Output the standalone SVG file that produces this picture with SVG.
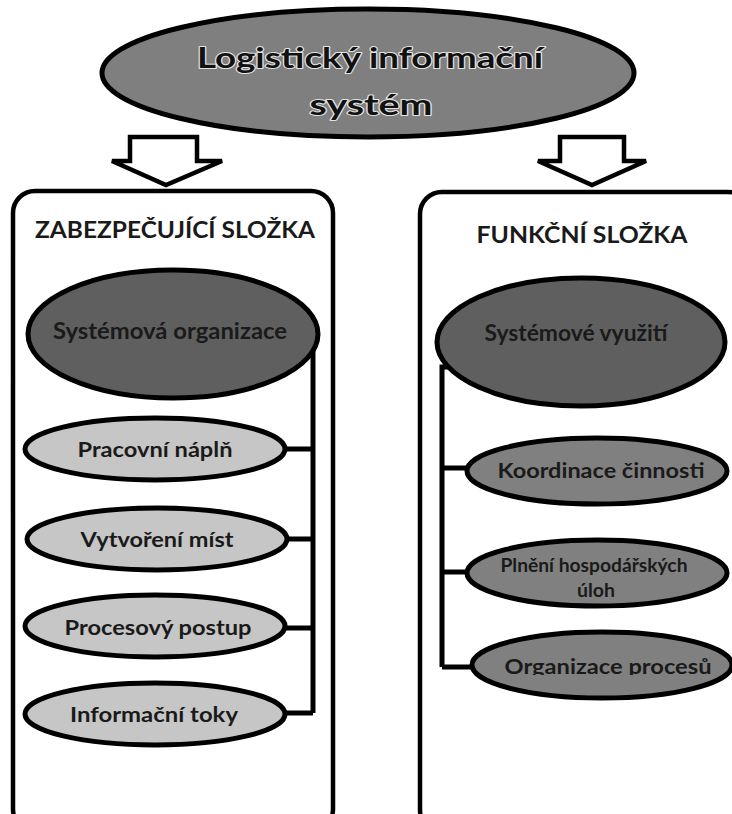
<svg xmlns="http://www.w3.org/2000/svg" width="732" height="814" viewBox="0 0 732 814">
<style>
text{font-family:Lato,"Open Sans","Liberation Sans",sans-serif;fill:#1a1a1a;text-anchor:middle}
.top{font-size:28px;font-weight:bold;stroke:#fff;stroke-width:2px;stroke-opacity:0.8;paint-order:stroke;stroke-linejoin:round;fill:#111}
.title{font-size:23px;font-weight:bold}
.big{font-size:23px;font-weight:bold}
.sm{font-size:21px;font-weight:bold}
.e{stroke:#000;stroke-width:5}
.box{fill:#fff;stroke:#000;stroke-width:4.5}
.arr{fill:#fff;stroke:#000;stroke-width:4.5;stroke-linejoin:miter}
.con{fill:none;stroke:#000;stroke-width:5}
</style>
<defs>
<clipPath id="clipOrg"><rect x="460" y="620" width="272" height="55"/></clipPath>
</defs>
<rect width="732" height="814" fill="#fff"/>
<g id="root">
<ellipse class="e" cx="368" cy="73" rx="266" ry="64" fill="#7f7f7f"/>
<text class="top" x="370" y="68" textLength="346" lengthAdjust="spacingAndGlyphs">Logistický informační</text>
<text class="top" x="371" y="115" textLength="123" lengthAdjust="spacingAndGlyphs">systém</text>
</g>
<g id="arrows">
<path class="arr" d="M130,137 H197 V161 H222 L166,185 L112,161 H130 Z"/>
<path class="arr" d="M560,137 H624 V161 H646 L592,185 L538,161 H560 Z"/>
</g>
<g id="box-left">
<rect class="box" x="13" y="191" width="320" height="640" rx="22"/>
<text class="title" x="175" y="238" textLength="280" lengthAdjust="spacingAndGlyphs">ZABEZPEČUJÍCÍ SLOŽKA</text>
</g>
<g id="box-right">
<rect class="box" x="420" y="192" width="330" height="640" rx="22"/>
<text class="title" x="582" y="243" textLength="211" lengthAdjust="spacingAndGlyphs">FUNKČNÍ SLOŽKA</text>
</g>
<g id="connectors">
<path class="con" d="M300,343 H313 V713"/>
<path class="con" d="M284,449 H313 M285,539 H313 M284,628 H313 M284,713 H313"/>
<path class="con" d="M448,367 H442 V667"/>
<path class="con" d="M442,468 H468 M442,572 H468 M442,667 H473"/>
</g>
<g id="n-sysorg">
<ellipse class="e" cx="173" cy="334" rx="145" ry="64" fill="#5f5f5f"/>
<text class="big" x="170" y="339" textLength="234" lengthAdjust="spacingAndGlyphs">Systémová organizace</text>
</g>
<g id="n-prac">
<ellipse class="e" cx="155" cy="449" rx="130" ry="31" fill="#c6c6c6"/>
<text class="sm" x="155" y="457" textLength="155" lengthAdjust="spacingAndGlyphs">Pracovní náplň</text>
</g>
<g id="n-vytv">
<ellipse class="e" cx="157" cy="539" rx="130" ry="31" fill="#c6c6c6"/>
<text class="sm" x="157" y="547" textLength="153" lengthAdjust="spacingAndGlyphs">Vytvoření míst</text>
</g>
<g id="n-proc">
<ellipse class="e" cx="155" cy="626" rx="130" ry="31" fill="#c6c6c6"/>
<text class="sm" x="158" y="635" textLength="187" lengthAdjust="spacingAndGlyphs">Procesový postup</text>
</g>
<g id="n-info">
<ellipse class="e" cx="155" cy="714" rx="130" ry="31" fill="#c6c6c6"/>
<text class="sm" x="154" y="722" textLength="168" lengthAdjust="spacingAndGlyphs">Informační toky</text>
</g>
<g id="n-sysvyu">
<ellipse class="e" cx="581" cy="342" rx="144" ry="64" fill="#5f5f5f"/>
<text class="big" x="576" y="341" textLength="183" lengthAdjust="spacingAndGlyphs">Systémové využití</text>
</g>
<g id="n-koord">
<ellipse class="e" cx="597" cy="471" rx="130" ry="33" fill="#808080"/>
<text class="sm" x="601" y="478" textLength="207" lengthAdjust="spacingAndGlyphs">Koordinace činnosti</text>
</g>
<g id="n-plneni">
<ellipse class="e" cx="597" cy="573" rx="130" ry="33" fill="#808080"/>
<text class="sm" x="594" y="572" style="font-size:18px" textLength="187" lengthAdjust="spacingAndGlyphs">Plnění hospodářských</text>
<text class="sm" x="596" y="597" style="font-size:18px" textLength="38" lengthAdjust="spacingAndGlyphs">úloh</text>
</g>
<g id="n-org">
<ellipse class="e" cx="602" cy="665" rx="130" ry="33" fill="#808080"/>
<text class="sm" x="608" y="674" clip-path="url(#clipOrg)" textLength="207" lengthAdjust="spacingAndGlyphs">Organizace procesů</text>
</g>
</svg>
